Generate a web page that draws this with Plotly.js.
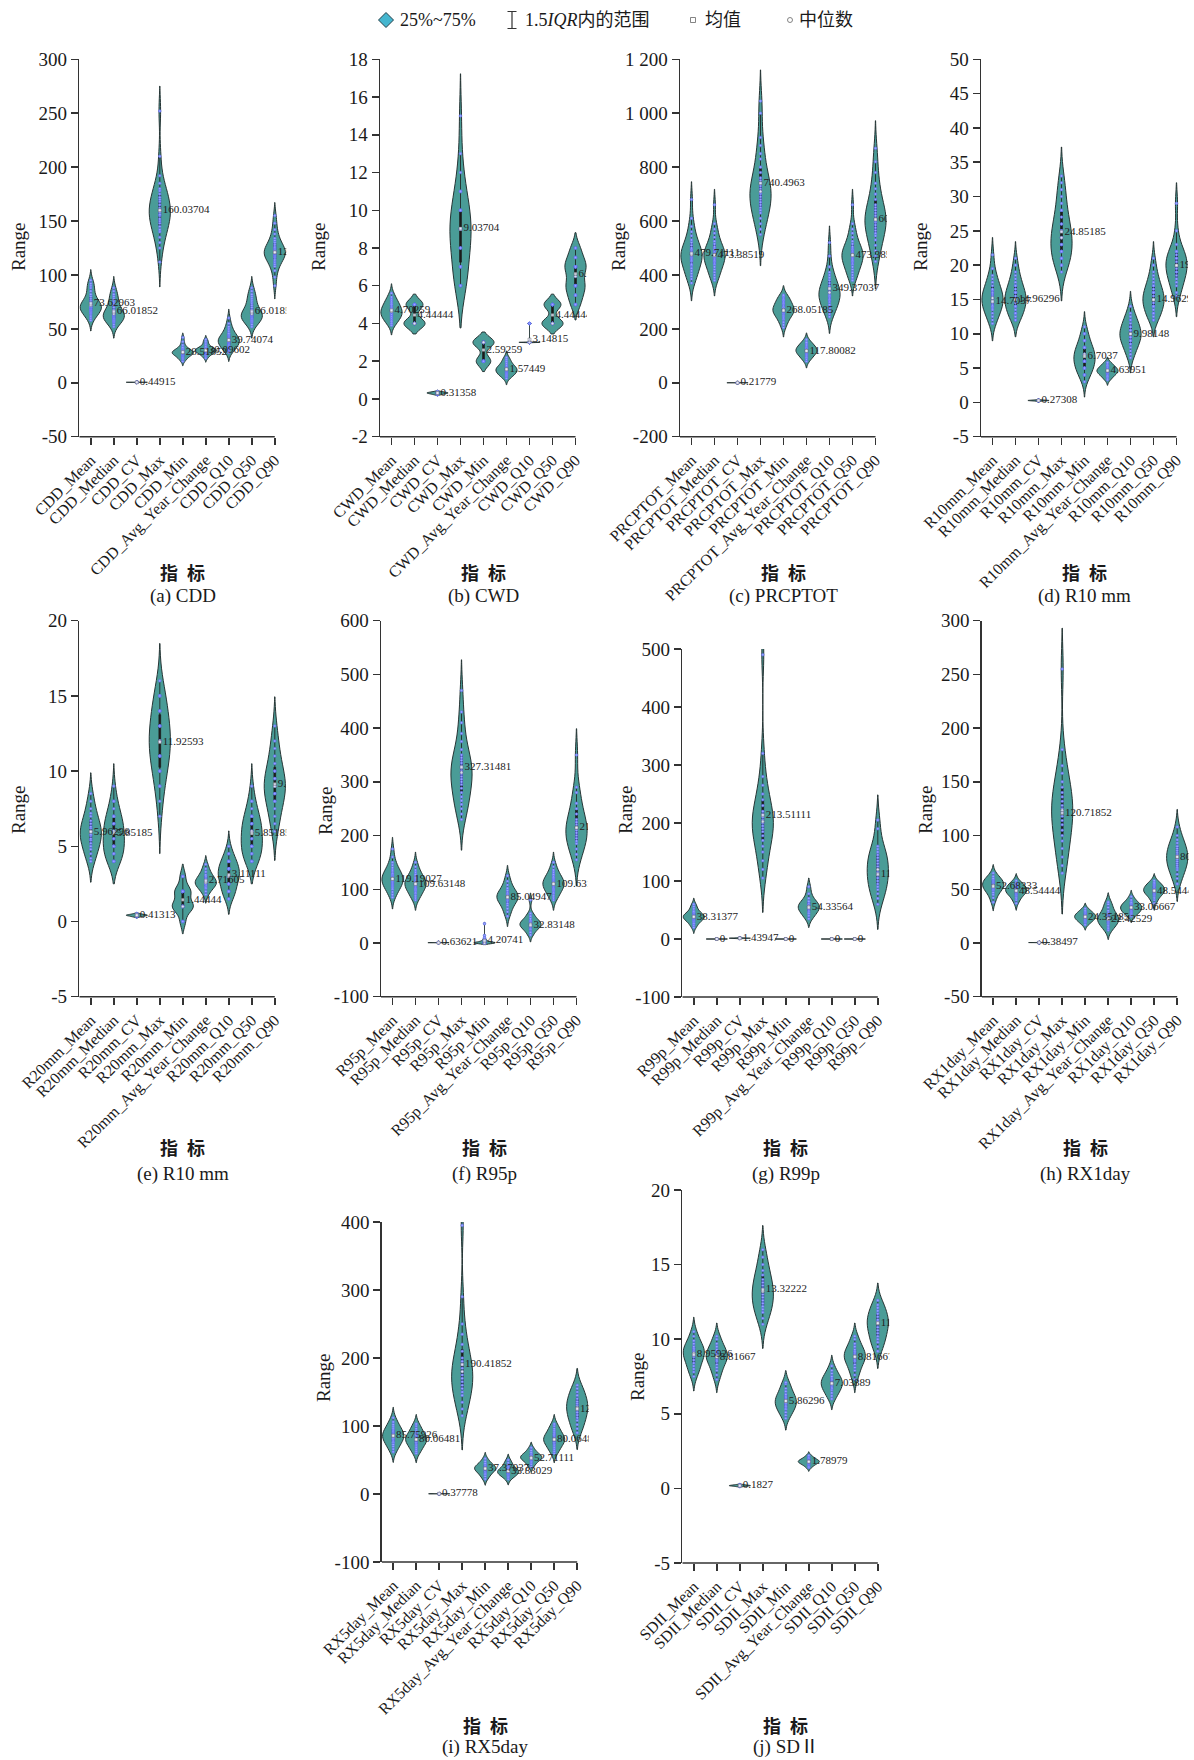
<!DOCTYPE html>
<html>
<head>
<meta charset="utf-8">
<script src="https://cdn.plot.ly/plotly-3.0.1.min.js"></script>
<style>
  html, body { margin: 0; padding: 0; background: #ffffff; }
  #chart { width: 1194px; height: 1760px; }
</style>
</head>
<body>
<div id="chart"></div>
<script>
// ---------------- data ----------------
const indexNames = ['CDD', 'CWD', 'PRCPTOT', 'R10mm', 'R20mm', 'R95p', 'R99p', 'RX1day', 'RX5day', 'SDII'];
const statNames = ['Mean', 'Median', 'CV', 'Max', 'Min', 'Avg_Year_Change', 'Q10', 'Q50', 'Q90'];
const panelCaptions = ['(a) CDD', '(b) CWD', '(c) PRCPTOT', '(d) R10 mm', '(e) R10 mm',
                       '(f) R95p', '(g) R99p', '(h) RX1day', '(i) RX5day', '(j) SD\u2161'];

// station samples per statistic (order follows statNames)
const CDD_values = [
  [58,60,62,64,65,66,67,68,68,69,70,70,71,72,72,73,74,75,76,78,80,82,85,88,90,92,95],
  [52,54,56,57,58,59,60,60,61,62,62,63,63,64,65,66,67,68,70,72,74,76,78,80,82,85,88],
  [0.30,0.34,0.37,0.39,0.41,0.42,0.43,0.44,0.45,0.45,0.46,0.47,0.48,0.49,0.50,0.52,0.55,0.60],
  [112,125,130,135,140,142,145,148,150,152,155,156,158,160,160,162,165,168,170,172,175,178,180,185,192,210,252],
  [20,22,23,24,25,26,26,27,27,28,28,28,29,29,30,30,31,32,33,35,38,42],
  [23,25,26,27,28,28,29,29,30,30,30,31,31,32,32,33,34,36,38,40],
  [28,30,31,32,33,34,35,36,37,38,38,39,39,40,40,41,42,43,44,45,46,48,50,52,55,60],
  [52,54,56,57,58,59,60,60,61,62,62,63,63,64,65,66,67,68,70,72,74,76,78,80,82,85,88],
  [90,98,104,108,110,112,114,116,117,118,119,120,120,121,122,123,124,125,126,128,130,132,134,138,142,148,155]
];
const CDD_means = [73.62963, 66.01852, 0.44915, 160.03704, 28.51852, 30.09602, 39.74074, 66.01852, 120.96296];

const CWD_values = [
  [3.9,4.0,4.1,4.2,4.3,4.3,4.4,4.4,4.5,4.5,4.6,4.6,4.7,4.7,4.8,4.8,4.9,5.0,5.0,5.1,5.2,5.3,5.4,5.6],
  [4,4,4,4,4,4,4,4,4,4,4,4,4,4,4,5,5,5,5,5,5,5,5,5,5,5,5],
  [0.22,0.25,0.27,0.29,0.30,0.31,0.32,0.33,0.34,0.35,0.37,0.40],
  [6,6,6,6,7,7,7,8,8,8,8,9,9,9,9,9,9,10,10,10,10,11,11,11,12,13,15],
  [2,2,2,2,2,2,2,2,2,2,2,3,3,3,3,3,3,3,3,3,3,3,3,3,3,3,3],
  [1.1,1.2,1.25,1.3,1.35,1.4,1.45,1.5,1.5,1.55,1.6,1.6,1.65,1.7,1.75,1.8,1.9,2.0,2.1,2.2],
  [3,3,3,3,3,3,3,3,3,3,3,3,3,3,3,3,3,3,3,3,3,3,3,4,4,4,4],
  [4,4,4,4,4,4,4,4,4,4,4,4,4,4,4,5,5,5,5,5,5,5,5,5,5,5,5],
  [5,5,5,5.5,5.5,5.5,6,6,6,6,6,6,6.5,6.5,7,7,7,7,7,7,7,7.5,7.5,7.5,8,8,8]
];
const CWD_means = [4.70259, 4.44444, 0.31358, 9.03704, 2.59259, 1.57449, 3.14815, 4.44444, 6.62963];

const PRCPTOT_values = [
  [370,385,395,405,415,425,435,440,450,455,460,465,470,475,480,485,490,495,500,510,520,530,545,560,580,610,680],
  [380,390,400,410,420,430,440,445,450,455,460,465,470,475,480,485,490,495,500,505,515,525,540,555,570,590,660],
  [0.15,0.17,0.19,0.20,0.21,0.22,0.22,0.23,0.24,0.25,0.27,0.30],
  [550,570,590,610,630,640,650,660,670,680,690,700,705,710,720,730,740,750,760,780,800,830,850,880,910,1000,1045],
  [205,215,225,235,240,245,250,255,258,262,265,268,270,272,275,278,280,285,290,295,300,305,310,315,320,325],
  [80,88,95,100,104,108,112,115,118,120,122,125,128,132,136,140,145,150,160],
  [245,255,265,275,285,290,300,305,310,315,320,325,330,335,340,345,350,355,360,370,380,390,400,410,430,470,520],
  [380,390,400,410,420,430,440,445,450,455,460,465,470,475,480,485,490,495,500,505,515,525,540,555,570,590,660],
  [450,470,490,510,530,545,555,565,575,585,595,600,605,610,620,630,640,650,660,680,700,720,740,780,820,870]
];
const PRCPTOT_means = [479.71111, 473.38519, 0.21779, 740.4963, 268.05185, 117.80082, 349.37037, 473.38519, 605.62963];

const R10mm_values = [
  [11.5,12,12.5,13,13.5,13.8,14,14.2,14.5,14.7,15,15.2,15.5,15.8,16,16.3,16.5,17,17.5,18,18.5,19.5,21.5],
  [12,12,12.5,13,13,13.5,14,14,14,14.5,15,15,15,15,15.5,16,16,16,16.5,17,17,17.5,18,18.5,19,20,21],
  [0.18,0.21,0.23,0.25,0.26,0.27,0.28,0.29,0.30,0.31,0.33,0.36],
  [19,20,20,21,21,21,22,22,22,23,23,24,24,24,25,25,25,26,26,27,28,28,29,30,31,32,33],
  [3,4,4,4,5,5,5,5,6,6,6,6,6,7,7,7,7,7,8,8,8,8,9,9,10,10,11],
  [3.3,3.6,3.8,4.0,4.2,4.3,4.4,4.5,4.6,4.7,4.8,4.9,5.0,5.2,5.4,5.6,5.8],
  [6.5,7,7.5,8,8.5,8.5,9,9,9.5,9.5,10,10,10,10.5,10.5,11,11,11.5,12,12,12.5,13,14],
  [12,12,12.5,13,13,13.5,14,14,14,14.5,15,15,15,15,15.5,16,16,16,16.5,17,17,17.5,18,18.5,19,20,21],
  [15.5,16,17,17.5,18,18.5,19,19,19.5,20,20,20.5,21,21,21.5,22,22,23,25,29]
];
const R10mm_means = [14.7037, 14.96296, 0.27308, 24.85185, 6.7037, 4.63951, 9.98148, 14.96296, 19.96296];

const R20mm_values = [
  [4,4.2,4.5,4.8,5,5.2,5.4,5.5,5.7,5.8,6,6,6.2,6.3,6.5,6.7,7,7.2,7.5,8,8.5],
  [4,4,4,4,4.5,4.5,5,5,5,5,5,5.5,5.5,6,6,6,6,6.5,6.5,6.5,7,7,7,7.5,8,8,9],
  [0.30,0.33,0.36,0.38,0.40,0.41,0.42,0.43,0.44,0.46,0.49,0.53],
  [7,8,9,9,10,10,10,11,11,11,11,12,12,12,12,12,13,13,13,13,14,14,14,15,15,15,16],
  [0,0,0,1,1,1,1,1,1,1,1,1,1,1,1,2,2,2,2,2,2,2,2,2,3,3,3],
  [1.8,2,2.2,2.3,2.4,2.5,2.5,2.6,2.6,2.7,2.8,2.9,3,3.1,3.3,3.5,3.8],
  [1.5,1.5,2,2,2,2,2.5,2.5,2.5,3,3,3,3,3,3,3.5,3.5,3.5,3.5,3.5,4,4,4,4,4.5,4.5,5],
  [4,4,4,4,4.5,4.5,5,5,5,5,5,5.5,5.5,6,6,6,6,6.5,6.5,6.5,7,7,7,7.5,8,8,9],
  [6,6.5,7,7.5,8,8,8.5,8.5,9,9,9,9.5,9.5,10,10,10.5,11,11.5,12,13]
];
const R20mm_means = [5.96296, 5.85185, 0.41313, 11.92593, 1.44444, 2.71605, 3.11111, 5.85185, 9.14815];

const R95p_values = [
  [85,90,95,100,103,106,108,110,112,114,116,118,120,122,124,126,128,130,133,136,140,145,150,160,175],
  [80,84,88,92,95,98,100,102,104,106,108,110,111,112,114,116,118,120,122,125,128,132,136,142,150],
  [0.45,0.50,0.55,0.58,0.60,0.62,0.63,0.64,0.65,0.67,0.70,0.75,0.82],
  [230,240,250,258,265,272,280,288,295,300,305,310,315,320,325,330,335,340,345,350,360,375,390,410,430,470],
  [0,0,0,0,0,0,0,0,0,0,0,0,0,0,1,1,2,2,3,3,4,5,6,8,10,14,36],
  [50,58,64,70,74,78,80,82,84,86,88,90,92,95,98,102,108,115,125],
  [15,20,25,28,30,32,33,35,36,38,40,42,45,50,55,80],
  [80,84,88,92,95,98,100,102,104,106,108,110,111,112,114,116,118,120,122,125,128,132,136,142,150],
  [155,165,175,185,190,195,200,205,210,215,220,225,230,240,250,260,280,290,350]
];
const R95p_means = [119.19027, 109.63148, 0.63621, 327.31481, 4.20741, 85.04947, 32.83148, 109.63148, 214.56296];

const R99p_values = [
  [20,24,27,30,32,34,35,36,37,38,39,40,41,42,44,46,48,52,56,60],
  [0,0,0,0,0,0,0,0,0,0,0,0,0,0,0,0,0,0,0,0,0,0,0,0,0,0,0],
  [0.8,1.0,1.2,1.3,1.4,1.5,1.6,1.8,2.2],
  [105,120,135,150,160,170,178,185,190,195,200,205,210,215,220,230,240,250,265,280,320,490],
  [0,0,0,0,0,0,0,0,0,0,0,0,0,0,0,0,0,0,0,0,0,0,0,0,0,0,0],
  [35,40,44,47,50,52,54,56,58,60,62,65,70,78,90],
  [0,0,0,0,0,0,0,0,0,0,0,0,0,0,0,0,0,0,0,0,0,0,0,0,0,0,0],
  [0,0,0,0,0,0,0,0,0,0,0,0,0,0,0,0,0,0,0,0,0,0,0,0,0,0,0],
  [60,70,78,85,90,95,100,105,110,115,120,125,130,135,140,145,150,155,160,190,205]
];
const R99p_means = [38.31377, 0, 1.43947, 213.51111, 0, 54.33564, 0, 0, 111.48148];

const RX1day_values = [
  [38,42,45,47,49,50,51,52,53,54,55,56,57,58,59,60,62,65],
  [37,40,42,44,45,46,47,48,48,49,50,50,51,52,53,54,55,56,58],
  [0.28,0.31,0.34,0.36,0.37,0.38,0.39,0.40,0.41,0.43,0.46,0.50],
  [65,72,80,88,95,100,105,110,114,118,122,125,128,132,136,140,145,150,158,165,180,255],
  [17,19,20,21,22,23,24,24,25,25,26,27,28,29,30,32],
  [12,14,16,18,19,20,21,22,23,24,25,26,28,30,33,36,38],
  [25,27,28,29,30,31,32,33,33,34,35,36,37,38,40,43],
  [37,40,42,44,45,46,47,48,48,49,50,50,51,52,53,54,55,56,58],
  [55,60,64,68,70,72,74,76,78,80,82,84,86,88,90,93,96,100,108]
];
const RX1day_means = [52.68333, 48.54444, 0.38497, 120.71852, 24.35185, 22.42529, 33.06667, 48.54444, 80.18519];

const RX5day_values = [
  [62,66,70,73,76,78,80,82,84,85,86,88,90,92,94,96,99,102,106,112],
  [60,63,66,69,72,74,76,78,79,80,81,82,84,86,88,90,93,96,100,103],
  [0.27,0.30,0.33,0.35,0.36,0.37,0.38,0.39,0.40,0.42,0.45,0.49],
  [115,125,135,145,150,155,160,165,170,175,180,185,190,195,200,210,220,235,250,290,395],
  [22,26,29,31,33,35,36,37,38,39,40,41,43,45,48,52],
  [22,25,27,29,30,31,32,33,34,35,36,38,40,43,46,50],
  [40,44,47,49,51,52,53,54,55,56,57,59,61,64,68],
  [60,63,66,69,72,74,76,78,79,80,81,82,84,86,88,90,93,96,100,103],
  [90,96,102,108,112,116,120,124,127,130,133,136,140,145,150,155,160]
];
const RX5day_means = [85.75926, 80.06481, 0.37778, 190.41852, 37.37037, 33.83029, 52.71111, 80.06481, 125.14815];

const SDII_values = [
  [7.5,7.8,8,8.2,8.4,8.6,8.8,8.9,9,9.1,9.2,9.3,9.4,9.5,9.7,9.9,10.2,10.5],
  [7.3,7.6,7.9,8.1,8.3,8.5,8.6,8.7,8.8,8.9,9,9.1,9.2,9.3,9.5,9.7,10,10.2],
  [0.12,0.14,0.16,0.17,0.18,0.18,0.19,0.20,0.21,0.22,0.24,0.26],
  [11,11.4,11.8,12,12.2,12.4,12.6,12.8,13,13.2,13.4,13.6,13.8,14,14.3,14.6,15,15.5,16],
  [4.7,4.9,5.1,5.3,5.4,5.5,5.6,5.7,5.8,5.9,6,6.1,6.2,6.3,6.5,6.7,7,7.1],
  [1.4,1.5,1.6,1.65,1.7,1.75,1.78,1.8,1.82,1.85,1.9,1.95,2,2.1,2.2],
  [6,6.2,6.4,6.6,6.7,6.8,6.9,7,7.1,7.2,7.3,7.4,7.5,7.7,7.9,8.2],
  [7.3,7.6,7.9,8.1,8.3,8.5,8.6,8.7,8.8,8.9,9,9.1,9.2,9.3,9.5,9.7,10,10.2],
  [9.2,9.5,9.8,10,10.2,10.4,10.6,10.8,11,11.1,11.2,11.3,11.5,11.7,11.9,12.1,12.3,12.6]
];
const SDII_means = [8.95926, 8.81667, 0.1827, 13.32222, 5.86296, 1.78979, 7.03889, 8.81667, 11.07778];

const panelValues = [CDD_values, CWD_values, PRCPTOT_values, R10mm_values, R20mm_values,
                     R95p_values, R99p_values, RX1day_values, RX5day_values, SDII_values];
const panelMeans = [CDD_means, CWD_means, PRCPTOT_means, R10mm_means, R20mm_means,
                    R95p_means, R99p_means, RX1day_means, RX5day_means, SDII_means];

// value axis scale per panel: [min, max, step]
const yScales = [[-50, 300, 50], [-2, 18, 2], [-200, 1200, 200], [-5, 50, 5], [-5, 20, 5],
                 [-100, 600, 100], [-100, 500, 100], [-50, 300, 50], [-100, 400, 100], [-5, 20, 5]];

// ---------------- layout geometry (pixels) ----------------
const W = 1194, H = 1760;
const PLOT_W = 207;
const boxes = [
  { x: 79.3,  top: 59.3,  bottom: 436.7, row: 0, rangeX: 18,  rangeY: 247 },
  { x: 380,   top: 59.3,  bottom: 436.7, row: 0, rangeX: 318, rangeY: 247 },
  { x: 680,   top: 59.3,  bottom: 436.7, row: 0, rangeX: 618, rangeY: 247 },
  { x: 981,   top: 59.3,  bottom: 436.7, row: 0, rangeX: 920, rangeY: 247 },
  { x: 79.3,  top: 620.7, bottom: 996.7, row: 1, rangeX: 18,  rangeY: 810 },
  { x: 381,   top: 620.7, bottom: 996.7, row: 1, rangeX: 325, rangeY: 810 },
  { x: 682.3, top: 649,   bottom: 997,   row: 1, rangeX: 625, rangeY: 810 },
  { x: 981.7, top: 620.7, bottom: 996.7, row: 1, rangeX: 925, rangeY: 810 },
  { x: 381.7, top: 1222,  bottom: 1562,  row: 2, rangeX: 323, rangeY: 1378 },
  { x: 682.3, top: 1190,  bottom: 1563,  row: 2, rangeX: 637, rangeY: 1377 }
];
const rowTitleY = [572, 1147, 1725];
const rowCaptionY = [596, 1174, 1747];

const SERIF = "'Liberation Serif', 'Times New Roman', 'Noto Sans CJK SC', serif";
const CJK = "'Noto Sans CJK SC', sans-serif";
const INK = '#1a1a1a';
const AXIS = '#333333';

const px = v => v / W;
const py = v => 1 - v / H;

function tickLabel(v) {
  const s = String(Math.abs(v)).replace(/\B(?=(\d{3})+(?!\d))/g, ' ');
  return (v < 0 ? '-' : '') + s;
}
function median(arr) {
  const s = arr.slice().sort((a, b) => a - b);
  const m = Math.floor(s.length / 2);
  return s.length % 2 ? s[m] : (s[m - 1] + s[m]) / 2;
}

const traces = [];
const layout = {
  width: W, height: H,
  margin: { l: 0, r: 0, t: 0, b: 0 },
  paper_bgcolor: '#ffffff', plot_bgcolor: 'rgba(0,0,0,0)',
  showlegend: false, violinmode: 'overlay',
  font: { family: SERIF, color: INK },
  annotations: [], shapes: []
};

indexNames.forEach((name, k) => {
  const n = k + 1;
  const xa = n === 1 ? 'x' : 'x' + n;
  const ya = n === 1 ? 'y' : 'y' + n;
  const xKey = n === 1 ? 'xaxis' : 'xaxis' + n;
  const yKey = n === 1 ? 'yaxis' : 'yaxis' + n;
  const b = boxes[k];
  const cats = statNames.map(s => name + '_' + s);
  const values = panelValues[k];
  const means = panelMeans[k];
  const [lo, hi, step] = yScales[k];

  // one violin per statistic so that each keeps the full width
  values.forEach((arr, i) => {
    traces.push({
      type: 'violin', xaxis: xa, yaxis: ya,
      x: arr.map(() => cats[i]), y: arr,
      orientation: 'v', width: 0.92, scalemode: 'width', spanmode: 'soft',
      scalegroup: name + i,
      fillcolor: '#4a9c97', line: { color: '#263434', width: 1 },
      points: 'all', pointpos: 0, jitter: 0,
      marker: { size: 2.6, color: '#9aa6ff', line: { color: '#5867ee', width: 0.6 } },
      box: { visible: true, width: 0.08, fillcolor: '#1c1c1c', line: { color: '#1c1c1c', width: 0.8 } },
      meanline: { visible: false },
      hoverinfo: 'skip', showlegend: false
    });
  });

  // median markers
  traces.push({
    type: 'scatter', mode: 'markers', xaxis: xa, yaxis: ya,
    x: cats, y: values.map(median),
    marker: { symbol: 'circle', size: 3, color: 'rgba(235,238,255,0.8)', line: { color: '#555', width: 0.4 } },
    cliponaxis: true, hoverinfo: 'skip', showlegend: false
  });

  // mean markers with their value labels
  traces.push({
    type: 'scatter', mode: 'markers+text', xaxis: xa, yaxis: ya,
    x: cats, y: means, text: means.map(v => String(v)),
    textposition: 'middle right',
    textfont: { family: SERIF, size: 11, color: '#222' },
    marker: { symbol: 'square', size: 3, color: 'rgba(235,238,255,0.8)', line: { color: '#555', width: 0.4 } },
    cliponaxis: true, hoverinfo: 'skip', showlegend: false
  });

  const tickvals = [];
  for (let v = lo; v <= hi + 1e-9; v += step) tickvals.push(v);

  layout[xKey] = {
    domain: [px(b.x), px(b.x + PLOT_W)], anchor: ya,
    type: 'category', categoryorder: 'array', categoryarray: cats,
    range: [-0.5, 8.5], showline: false, showgrid: false, zeroline: false,
    ticks: 'outside', ticklen: 7, tickwidth: 1.5, tickcolor: AXIS,
    tickangle: -45, tickfont: { family: SERIF, size: 16, color: INK },
    fixedrange: true, automargin: false
  };
  layout[yKey] = {
    domain: [py(b.bottom), py(b.top)], anchor: xa,
    range: [lo, hi], tickmode: 'array', tickvals: tickvals, ticktext: tickvals.map(tickLabel),
    showline: true, linecolor: AXIS, linewidth: 1.5, showgrid: false, zeroline: false,
    ticks: 'outside', ticklen: 7, tickwidth: 1.5, tickcolor: AXIS,
    tickfont: { family: SERIF, size: 19, color: INK },
    fixedrange: true, automargin: false
  };

  // category axis baseline, ending at the last category
  layout.shapes.push({
    type: 'line', xref: xa, yref: ya + ' domain', x0: -0.5, x1: 8, y0: 0, y1: 0,
    line: { color: AXIS, width: 1.5 }, layer: 'above'
  });

  const cx = px(b.x + PLOT_W / 2);
  layout.annotations.push(
    { xref: 'paper', yref: 'paper', x: px(b.rangeX), y: py(b.rangeY), text: 'Range', textangle: -90,
      showarrow: false, xanchor: 'center', yanchor: 'middle', font: { family: SERIF, size: 19, color: INK } },
    { xref: 'paper', yref: 'paper', x: cx, y: py(rowTitleY[b.row]), text: '<b>指\u2002标</b>',
      showarrow: false, xanchor: 'center', yanchor: 'middle', font: { family: CJK, size: 18, color: INK } },
    { xref: 'paper', yref: 'paper', x: cx, y: py(rowCaptionY[b.row]), text: panelCaptions[k],
      showarrow: false, xanchor: 'center', yanchor: 'middle', font: { family: SERIF, size: 19, color: INK } }
  );
});

// ---------------- legend ----------------
const legendY = py(20);
function legendIcon(xPix, shape) {
  return Object.assign({ xref: 'paper', yref: 'paper', xsizemode: 'pixel', ysizemode: 'pixel',
                         xanchor: px(xPix), yanchor: legendY }, shape);
}
layout.shapes.push(
  legendIcon(386, { type: 'path', path: 'M 0 7.5 L 7.5 0 L 0 -7.5 L -7.5 0 Z',
                    fillcolor: '#45b6cf', line: { color: '#27414a', width: 1 } }),
  legendIcon(512, { type: 'path', path: 'M -4.5 8.5 L 4.5 8.5 M 0 8.5 L 0 -8.5 M -4.5 -8.5 L 4.5 -8.5',
                    line: { color: '#333', width: 1.2 } }),
  legendIcon(693, { type: 'path', path: 'M -2.5 -2.5 L 2.5 -2.5 L 2.5 2.5 L -2.5 2.5 Z',
                    fillcolor: '#ffffff', line: { color: '#666', width: 0.8 } }),
  legendIcon(790, { type: 'circle', x0: -2.5, x1: 2.5, y0: -2.5, y1: 2.5,
                    fillcolor: '#ffffff', line: { color: '#666', width: 0.8 } })
);
const legendTexts = [
  [398, '25%~75%'],
  [523, '1.5<i>IQR</i>内的范围'],
  [703, '均值'],
  [797, '中位数']
];
legendTexts.forEach(([xPix, txt]) => {
  layout.annotations.push({ xref: 'paper', yref: 'paper', x: px(xPix), y: legendY, text: txt,
    showarrow: false, xanchor: 'left', yanchor: 'middle', font: { family: SERIF, size: 18, color: INK } });
});

Plotly.newPlot('chart', traces, layout, { staticPlot: true, displayModeBar: false });
</script>
</body>
</html>
